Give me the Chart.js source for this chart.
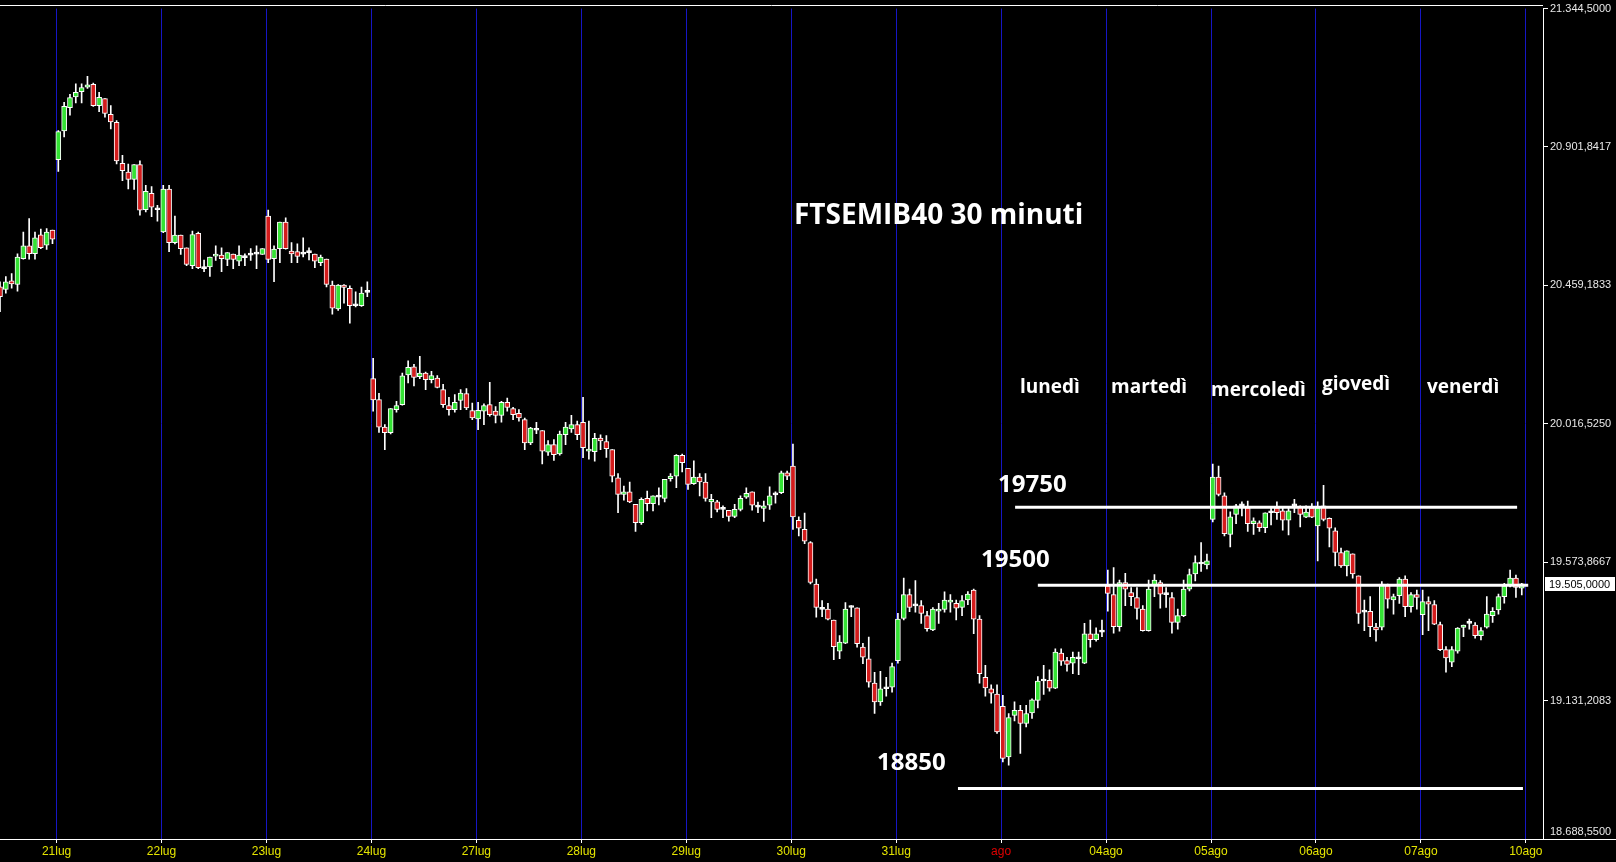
<!DOCTYPE html>
<html>
<head>
<meta charset="utf-8">
<script src="https://cdn.jsdelivr.net/npm/chart.js@4.4.1/dist/chart.umd.min.js"></script>
<style>
  html, body { margin: 0; padding: 0; background: #000; overflow: hidden; }
  canvas { display: block; }
</style>
</head>
<body>
<canvas id="chart" width="1616" height="862"></canvas>
<script>
// days on the time axis (20lug only partly on screen, 10ago has no bars yet)
const dayLabels = ['21lug', '22lug', '23lug', '24lug', '27lug', '28lug', '29lug', '30lug', '31lug', 'ago', '04ago', '05ago', '06ago', '07ago', '10ago'];
const barsPerDay = 18;
const firstDayBars = 10; // bars of 20lug still visible

// 30 minute bars, one row per day
const openPrices = [
  20455, 20446, 20474, 20462, 20545, 20586, 20561, 20621, 20588, 20636,
  20861, 20953, 21028, 21062, 21079, 21093, 21102, 21034, 21057, 21006, 20981, 20850, 20822, 20798, 20846, 20701, 20754, 20701,
  20630, 20767, 20596, 20620, 20579, 20522, 20626, 20513, 20518, 20553, 20556, 20542, 20559, 20537, 20548, 20556, 20559, 20558,
  20681, 20545, 20577, 20662, 20569, 20567, 20559, 20564, 20559, 20532, 20543, 20460, 20384, 20460, 20450, 20394, 20394, 20437,
  20161, 20094, 20006, 19988, 20062, 20078, 20173, 20199, 20167, 20179, 20158, 20163, 20126, 20075, 20062, 20091, 20113, 20059,
  20032, 20057, 20078, 20057, 20043, 20085, 20065, 20050, 20030, 19955, 19996, 19995, 19926, 19950, 19920, 19982, 20000, 20014,
  20021, 19929, 19927, 19971, 19960, 19934, 19844, 19791, 19799, 19759, 19700, 19778, 19761, 19782, 19778, 19841, 19849, 19916,
  19874, 19825, 19846, 19830, 19767, 19767, 19743, 19740, 19720, 19743, 19782, 19799, 19750, 19746, 19756, 19789, 19796, 19860,
  19881, 19708, 19679, 19637, 19504, 19423, 19424, 19389, 19289, 19315, 19429, 19428, 19302, 19265, 19187, 19127, 19169, 19174,
  19259, 19394, 19470, 19434, 19435, 19403, 19357, 19417, 19423, 19446, 19442, 19429, 19453, 19485, 19392, 19206, 19169, 19152,
  19113, 18951, 19084, 19100, 19058, 19092, 19132, 19194, 19196, 19171, 19283, 19259, 19251, 19265, 19251, 19345, 19326, 19350,
  19498, 19470, 19368, 19509, 19477, 19461, 19424, 19355, 19499, 19509, 19470, 19461, 19381, 19403, 19488, 19536, 19568, 19565,
  19711, 19846, 19786, 19663, 19727, 19754, 19748, 19697, 19700, 19684, 19732, 19748, 19738, 19708, 19754, 19750, 19718, 19748,
  19690, 19754, 19714, 19674, 19605, 19562, 19601, 19530, 19414, 19417, 19366, 19366, 19499, 19453, 19467, 19520, 19432, 19470,
  19406, 19448, 19438, 19374, 19294, 19254, 19289, 19365, 19378, 19373, 19339, 19366, 19403, 19421, 19464, 19498, 19523, 19491
];
const highPrices = [
  20471, 20487, 20497, 20560, 20630, 20673, 20630, 20639, 20641, 20636,
  20954, 21045, 21070, 21104, 21104, 21128, 21106, 21077, 21057, 21034, 20986, 20875, 20847, 20846, 20858, 20779, 20775, 20715,
  20779, 20779, 20681, 20620, 20579, 20633, 20630, 20540, 20550, 20586, 20579, 20564, 20559, 20586, 20560, 20577, 20586, 20577,
  20700, 20586, 20662, 20675, 20596, 20592, 20611, 20579, 20559, 20556, 20543, 20473, 20462, 20462, 20458, 20439, 20454, 20471,
  20226, 20114, 20014, 20065, 20088, 20179, 20218, 20207, 20232, 20182, 20184, 20171, 20143, 20101, 20110, 20126, 20129, 20083,
  20085, 20080, 20149, 20072, 20088, 20099, 20069, 20062, 20035, 20005, 20021, 19995, 19963, 19966, 19993, 20021, 20044, 20025,
  20101, 20025, 19986, 19981, 19979, 19934, 19857, 19817, 19830, 19759, 19780, 19801, 19786, 19812, 19839, 19857, 19918, 19920,
  19874, 19898, 19857, 19857, 19791, 19772, 19754, 19740, 19759, 19786, 19812, 19799, 19766, 19769, 19815, 19799, 19865, 19865,
  19952, 19719, 19731, 19640, 19520, 19451, 19442, 19389, 19339, 19445, 19435, 19428, 19314, 19334, 19222, 19225, 19206, 19251,
  19410, 19523, 19488, 19515, 19451, 19417, 19429, 19442, 19479, 19470, 19453, 19467, 19480, 19488, 19403, 19244, 19182, 19182,
  19148, 19090, 19127, 19116, 19116, 19137, 19208, 19244, 19230, 19297, 19297, 19270, 19286, 19286, 19378, 19389, 19364, 19389,
  19549, 19557, 19517, 19538, 19493, 19493, 19435, 19517, 19534, 19515, 19493, 19477, 19424, 19517, 19552, 19594, 19637, 19600,
  19888, 19881, 19796, 19735, 19759, 19767, 19769, 19716, 19706, 19732, 19750, 19767, 19746, 19746, 19775, 19754, 19754, 19761,
  19767, 19820, 19716, 19684, 19619, 19610, 19601, 19530, 19453, 19464, 19378, 19512, 19504, 19472, 19525, 19530, 19477, 19485,
  19485, 19463, 19451, 19382, 19304, 19304, 19365, 19373, 19392, 19381, 19365, 19464, 19429, 19472, 19506, 19549, 19533, 19506
];
const lowPrices = [
  20375, 20434, 20450, 20441, 20543, 20543, 20543, 20577, 20574, 20593,
  20824, 20934, 21004, 21043, 21043, 21089, 21032, 21015, 20997, 20960, 20848, 20794, 20768, 20766, 20684, 20694, 20679, 20665,
  20628, 20567, 20592, 20558, 20522, 20513, 20513, 20503, 20488, 20539, 20503, 20522, 20513, 20522, 20522, 20539, 20513, 20558,
  20532, 20471, 20532, 20575, 20532, 20532, 20550, 20541, 20516, 20522, 20454, 20367, 20379, 20402, 20338, 20390, 20392, 20423,
  20057, 19989, 19934, 19984, 20054, 20076, 20147, 20138, 20161, 20126, 20147, 20131, 20069, 20044, 20054, 20062, 20062, 20030,
  19998, 20014, 20041, 20019, 20022, 20057, 20030, 20025, 19934, 19950, 19985, 19888, 19915, 19899, 19916, 19950, 19989, 19966,
  19908, 19903, 19897, 19934, 19909, 19831, 19732, 19772, 19764, 19672, 19695, 19738, 19738, 19757, 19767, 19833, 19812, 19863,
  19807, 19823, 19786, 19769, 19716, 19735, 19716, 19705, 19716, 19738, 19778, 19740, 19732, 19704, 19743, 19763, 19793, 19838,
  19679, 19658, 19633, 19504, 19398, 19400, 19389, 19262, 19265, 19313, 19400, 19302, 19249, 19174, 19090, 19116, 19145, 19158,
  19251, 19389, 19416, 19414, 19378, 19353, 19355, 19378, 19414, 19414, 19389, 19403, 19438, 19345, 19187, 19145, 19123, 19026,
  18935, 18925, 19066, 18962, 19047, 19074, 19108, 19151, 19161, 19169, 19244, 19225, 19217, 19214, 19249, 19302, 19321, 19336,
  19417, 19347, 19353, 19435, 19435, 19392, 19353, 19353, 19464, 19427, 19429, 19347, 19360, 19400, 19482, 19514, 19544, 19552,
  19703, 19786, 19658, 19623, 19697, 19722, 19672, 19663, 19672, 19668, 19693, 19711, 19676, 19661, 19732, 19687, 19716, 19716,
  19578, 19706, 19623, 19562, 19557, 19530, 19523, 19378, 19355, 19336, 19321, 19357, 19427, 19408, 19442, 19400, 19414, 19424,
  19342, 19355, 19374, 19291, 19222, 19240, 19283, 19336, 19360, 19331, 19325, 19363, 19381, 19408, 19443, 19495, 19461, 19469
];
const closePrices = [
  20423, 20471, 20464, 20550, 20586, 20561, 20611, 20580, 20630, 20607,
  20951, 21032, 21060, 21077, 21092, 21101, 21034, 21061, 21009, 20982, 20857, 20826, 20798, 20846, 20700, 20760, 20709, 20701,
  20767, 20596, 20620, 20577, 20526, 20622, 20516, 20513, 20550, 20558, 20545, 20564, 20542, 20556, 20548, 20556, 20559, 20577,
  20542, 20575, 20662, 20577, 20560, 20552, 20559, 20564, 20537, 20550, 20462, 20386, 20460, 20453, 20394, 20394, 20435, 20437,
  20093, 20006, 19988, 20065, 20075, 20170, 20197, 20165, 20179, 20158, 20171, 20133, 20078, 20062, 20085, 20115, 20067, 20035,
  20060, 20075, 20046, 20043, 20085, 20069, 20046, 20035, 19955, 20003, 19996, 19929, 19950, 19918, 19984, 20006, 20014, 19982,
  19940, 19934, 19970, 19962, 19937, 19849, 19791, 19799, 19767, 19700, 19775, 19761, 19786, 19782, 19839, 19849, 19916, 19892,
  19823, 19846, 19831, 19778, 19775, 19743, 19743, 19720, 19743, 19778, 19794, 19756, 19750, 19754, 19786, 19789, 19860, 19849,
  19719, 19683, 19641, 19509, 19429, 19423, 19392, 19304, 19318, 19424, 19429, 19313, 19270, 19190, 19127, 19169, 19169, 19240,
  19392, 19470, 19429, 19434, 19410, 19361, 19424, 19424, 19453, 19453, 19427, 19451, 19472, 19392, 19217, 19172, 19155, 19031,
  18946, 19077, 19100, 19058, 19090, 19134, 19194, 19194, 19171, 19286, 19257, 19247, 19270, 19265, 19345, 19326, 19345, 19350,
  19474, 19368, 19509, 19488, 19464, 19426, 19355, 19488, 19517, 19472, 19470, 19381, 19403, 19488, 19534, 19573, 19568, 19578,
  19846, 19791, 19665, 19719, 19754, 19754, 19697, 19706, 19684, 19732, 19732, 19732, 19708, 19738, 19754, 19727, 19734, 19718,
  19748, 19711, 19683, 19605, 19562, 19610, 19536, 19410, 19414, 19368, 19357, 19504, 19456, 19464, 19520, 19432, 19470, 19461,
  19448, 19440, 19376, 19294, 19268, 19294, 19363, 19373, 19378, 19339, 19355, 19408, 19417, 19464, 19498, 19523, 19493, 19505
];

// price scale ticks
const yTicks = [18688.55, 19131.2083, 19573.8667, 20016.525, 20459.1833, 20901.8417, 21344.5];

// horizontal levels drawn by hand on the chart (value, first bar, last bar)
const levelValues = [19750, 19500, 18850];
const levelFrom = [164.1, 168, 154.3];
const levelTo = [250.2, 252.1, 251.2];

const UP = '#34e234';
const DOWN = '#d41c1c';

// 21344.5 -> "21.344,5000"
function fmt(v) {
  const parts = v.toFixed(4).split('.');
  const intPart = parts[0].replace(/\B(?=(\d{3})+(?!\d))/g, '.');
  return intPart + ',' + parts[1];
}

const barX = k => k - firstDayBars;

const bodies = openPrices.map((o, k) => ({ x: barX(k), y: [o, closePrices[k]] }));
const wicks = lowPrices.map((l, k) => ({ x: barX(k), y: [l, highPrices[k]] }));
const bodyColors = openPrices.map((o, k) => {
  if (closePrices[k] > o) return UP;
  if (closePrices[k] < o) return DOWN;
  return '#ffffff';
});

const levelSets = levelValues.map((v, j) => ({
  type: 'line',
  data: [{ x: levelFrom[j], y: v }, { x: levelTo[j], y: v }],
  borderColor: '#ffffff',
  borderWidth: 3,
  pointRadius: 0,
  order: 0
}));

//labels, day names, price tag
const overlay = {
  id: 'overlay',
  afterDraw(chart) {
    const ctx = chart.ctx;
    const area = chart.chartArea;
    const yScale = chart.scales.y;
    ctx.save();

    ctx.strokeStyle = '#ffffff';
    ctx.lineWidth = 1;
    ctx.beginPath();
    ctx.moveTo(0, 5.5);
    ctx.lineTo(area.right, 5.5);
    ctx.moveTo(area.right, area.bottom + 0.5);
    ctx.lineTo(chart.width, area.bottom + 0.5);
    ctx.stroke();

    // last price tag on the axis
    const last = closePrices[closePrices.length - 1];
    const py = Math.round(yScale.getPixelForValue(last));
    ctx.fillStyle = '#ffffff';
    ctx.fillRect(area.right + 2, py - 7, 70, 14);
    ctx.fillStyle = '#000000';
    ctx.font = '11px "Liberation Sans"';
    ctx.textBaseline = 'middle';
    ctx.textAlign = 'left';
    ctx.fillText(fmt(last), area.right + 6, py + 1);

    ctx.fillStyle = '#ffffff';
    ctx.font = 'bold 28px "Open Sans"';
    ctx.fillText('FTSEMIB40 30 minuti', 794, 216);

    ctx.font = 'bold 19px "Open Sans"';
    ctx.fillText('lunedì', 1020, 388);
    ctx.fillText('martedì', 1111, 388);
    ctx.fillText('mercoledì', 1211, 391);
    ctx.fillText('giovedì', 1322, 385);
    ctx.fillText('venerdì', 1427, 388);

    ctx.font = 'bold 24px "Open Sans"';
    ctx.fillText('19750', 998, 485);
    ctx.fillText('19500', 981, 560);
    ctx.fillText('18850', 877, 763);

    ctx.restore();
  }
};

new Chart(document.getElementById('chart'), {
  type: 'bar',
  data: {
    datasets: [
      ...levelSets,
      {
        data: bodies,
        backgroundColor: bodyColors,
        borderColor: '#ffffff',
        borderWidth: 1,
        borderSkipped: false,
        barThickness: 5,
        minBarLength: 2,
        grouped: false,
        order: 1
      },
      {
        data: wicks,
        backgroundColor: '#ffffff',
        borderWidth: 0,
        barThickness: 1,
        grouped: false,
        order: 2
      }
    ]
  },
  options: {
    responsive: false,
    animation: false,
    devicePixelRatio: 1,
    layout: { padding: { top: 6, left: 0, right: 0, bottom: 0 } },
    plugins: { legend: { display: false }, tooltip: { enabled: false } },
    scales: {
      x: {
        type: 'linear',
        offset: false,
        min: -10,
        max: 254.64,
        afterBuildTicks: axis => {
          axis.ticks = dayLabels.map((l, d) => ({ value: d * barsPerDay - 0.3 }));
        },
        afterFit: axis => { axis.height = 23; },
        ticks: {
          autoSkip: false,
          maxRotation: 0,
          padding: 1,
          font: { family: 'Liberation Sans', size: 12 },
          color: ctx => dayLabels[ctx.index] === 'ago' ? '#e00000' : '#e4e400',
          callback: (v, i) => dayLabels[i]
        },
        grid: { offset: false, color: '#1616c4', lineWidth: 1, drawTicks: true, tickLength: 4, tickColor: '#ffffff' },
        border: { color: '#ffffff', width: 1 }
      },
      y: {
        position: 'right',
        min: 18688.55,
        max: 21344.5,
        afterBuildTicks: axis => {
          axis.ticks = yTicks.map(v => ({ value: v }));
        },
        afterFit: axis => { axis.width = 73; },
        ticks: {
          padding: 2,
          font: { family: 'Liberation Sans', size: 11 },
          color: '#e8e8e8',
          callback: (v, i) => i === 0 ? [fmt(v), ''] : fmt(v)
        },
        grid: { drawOnChartArea: false, drawTicks: true, tickLength: 5, tickColor: '#ffffff' },
        border: { color: '#ffffff', width: 1 }
      }
    }
  },
  plugins: [overlay]
});
</script>
</body>
</html>
